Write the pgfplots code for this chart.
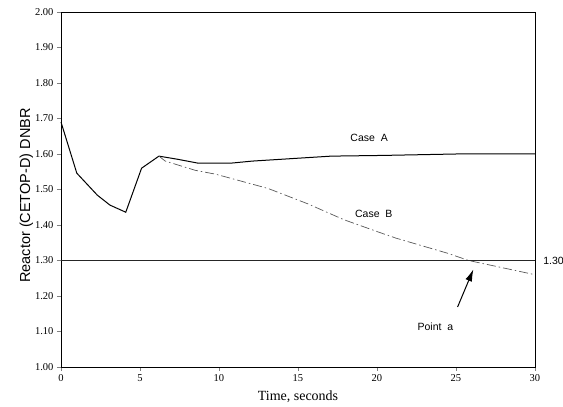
\documentclass[border=0pt]{standalone}
\usepackage{pgfplots}
\pgfplotsset{compat=1.18}
\usepackage{fontspec}
\setmainfont{Liberation Serif}
\setsansfont{Liberation Sans}
\usetikzlibrary{arrows.meta}
\begin{document}
\begin{tikzpicture}
\begin{axis}[
  scale only axis, width=474pt, height=355pt,
  xmin=0, xmax=30, ymin=1, ymax=2,
  xtick={0,5,10,15,20,25,30},
  ytick={1.0,1.1,1.2,1.3,1.4,1.5,1.6,1.7,1.8,1.9,2.0},
  yticklabel style={/pgf/number format/fixed,/pgf/number format/precision=2,/pgf/number format/fixed zerofill},
  /pgf/number format/assume math mode=true,
  ticklabel style={font=\fontsize{10.5}{12}\selectfont},
  tick pos=left, tick align=outside, major tick length=4pt,
  axis line style={line width=0.8pt},
  xlabel={Time, seconds}, ylabel={Reactor (CETOP-D) DNBR},
  xlabel style={font=\fontsize{14}{16}\selectfont, yshift=-2pt},
  ylabel style={font=\sffamily\fontsize{14.5}{16}\selectfont, yshift=-5pt, xshift=-6pt},
  clip=false,
]
\addplot[black, line width=1pt] coordinates {
(0,1.69)(1,1.546)(2.3,1.484)(3.1,1.456)(4.1,1.436)(5.1,1.56)(6.2,1.594)(7.4,1.585)(8.7,1.574)(10.7,1.574)(12.1,1.58)(17.1,1.594)(20.4,1.596)(25,1.600)(30,1.600)};
\addplot[black!65, line width=0.7pt, dash pattern=on 9pt off 3pt on 1.5pt off 3pt] coordinates {
(6.2,1.594)(6.6,1.58)(8.5,1.554)(9.8,1.543)(11.7,1.52)(13.1,1.503)(15.6,1.46)(17.9,1.415)(20.1,1.38)(21.2,1.363)(24.5,1.32)(25.8,1.30)(30,1.26)};
\addplot[black!85, line width=0.9pt] coordinates {(0,1.3)(30,1.3)};
\node[font=\sffamily\fontsize{10.5}{12}\selectfont] at (axis cs:19.5,1.644) {Case\ \ A};
\node[font=\sffamily\fontsize{10.5}{12}\selectfont] at (axis cs:19.8,1.43) {Case\ \ B};
\node[font=\sffamily\fontsize{10.5}{12}\selectfont] at (axis cs:23.7,1.112) {Point\ \ a};
\node[font=\sffamily\fontsize{10.5}{12}\selectfont, anchor=west] at (axis cs:30.3,1.30) {1.30};
\draw[black, line width=1pt, -{Latex[length=12pt,width=7pt]}] (axis cs:25.1,1.169) -- (axis cs:26.1,1.275);
\end{axis}
\pgfresetboundingbox
\path (current axis.south west) ++(-61pt,-40pt) rectangle ++(563pt,407pt);
\end{tikzpicture}
\end{document}
